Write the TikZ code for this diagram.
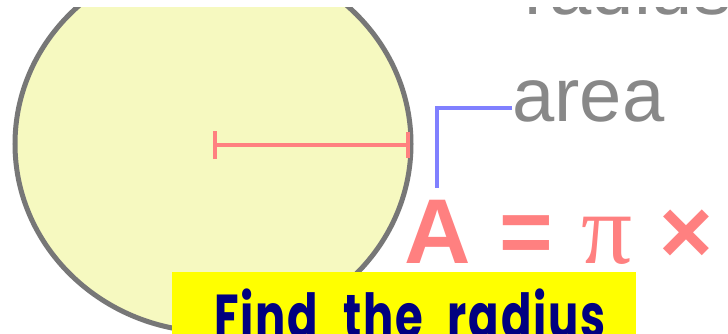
\documentclass[tikz,border=0pt]{standalone}
\usepackage{fontspec}
\usepackage{graphicx}
\setmainfont{Liberation Sans}
\newfontfamily\pifont{Liberation Serif}
\newfontfamily\bannerfont[LetterSpace=4,WordSpace=2.2]{Poppins}
\usetikzlibrary{positioning,arrows.meta}
\definecolor{disc}{HTML}{F6F9C0}
\definecolor{rimgrey}{HTML}{777777}
\definecolor{wordgrey}{HTML}{888888}
\definecolor{formula}{HTML}{FF8080}
\definecolor{pointer}{HTML}{8080FF}
\definecolor{banner}{HTML}{FFFF00}
\definecolor{navy}{HTML}{000080}

\begin{document}
\begin{tikzpicture}[x=1pt,y=-1pt,
  word/.style={inner sep=0pt, text=wordgrey, font=\fontsize{76}{80}\selectfont},
  eq/.style={inner sep=0pt, text=formula, font=\fontsize{92}{96}\selectfont\bfseries}]
  \useasboundingbox (0,0) rectangle (728,334);
  \clip (0,0) rectangle (728,334);
  \fill[white] (0,0) rectangle (728,334);
  % the disc and its radius
  \draw[rimgrey, line width=5pt, fill=disc] (213,144) ellipse [x radius=198pt, y radius=188pt];
  \coordinate (centre) at (213,145);
  \coordinate (edge) at (410,145);
  \draw[formula, line width=4pt, {Bar[width=28pt]}-{Bar[width=26pt]}] (centre) -- (edge);
  % labels
  \node[word, anchor=base west] (radius) at (524,15) {radius};
  \node[word, anchor=base west] (area) at (512,122) {area};
  \node[eq, anchor=base west] (eqA) at (404,263) {A};
  \node[eq, anchor=base west] (eqrest) at (eqA.base east)
    {\kern3pt\ = \kern3pt{\pifont\mdseries\fontsize{101}{104}\selectfont π}\ \kern1pt×};
  \draw[pointer, line width=4pt] ([yshift=-6pt]area.west) -| ([yshift=12pt]eqA.north);
  % banner
  \fill[banner] (172,272) rectangle (636,345);
  \node[anchor=base, text=navy, inner sep=0pt] (find) at (410,338)
    {\resizebox{391pt}{\height}{\bannerfont\bfseries\fontsize{62}{66}\selectfont Find the radius}};
  % blank strip along the top
  \fill[white] (0,0) rectangle (728,7);
\end{tikzpicture}
\end{document}
